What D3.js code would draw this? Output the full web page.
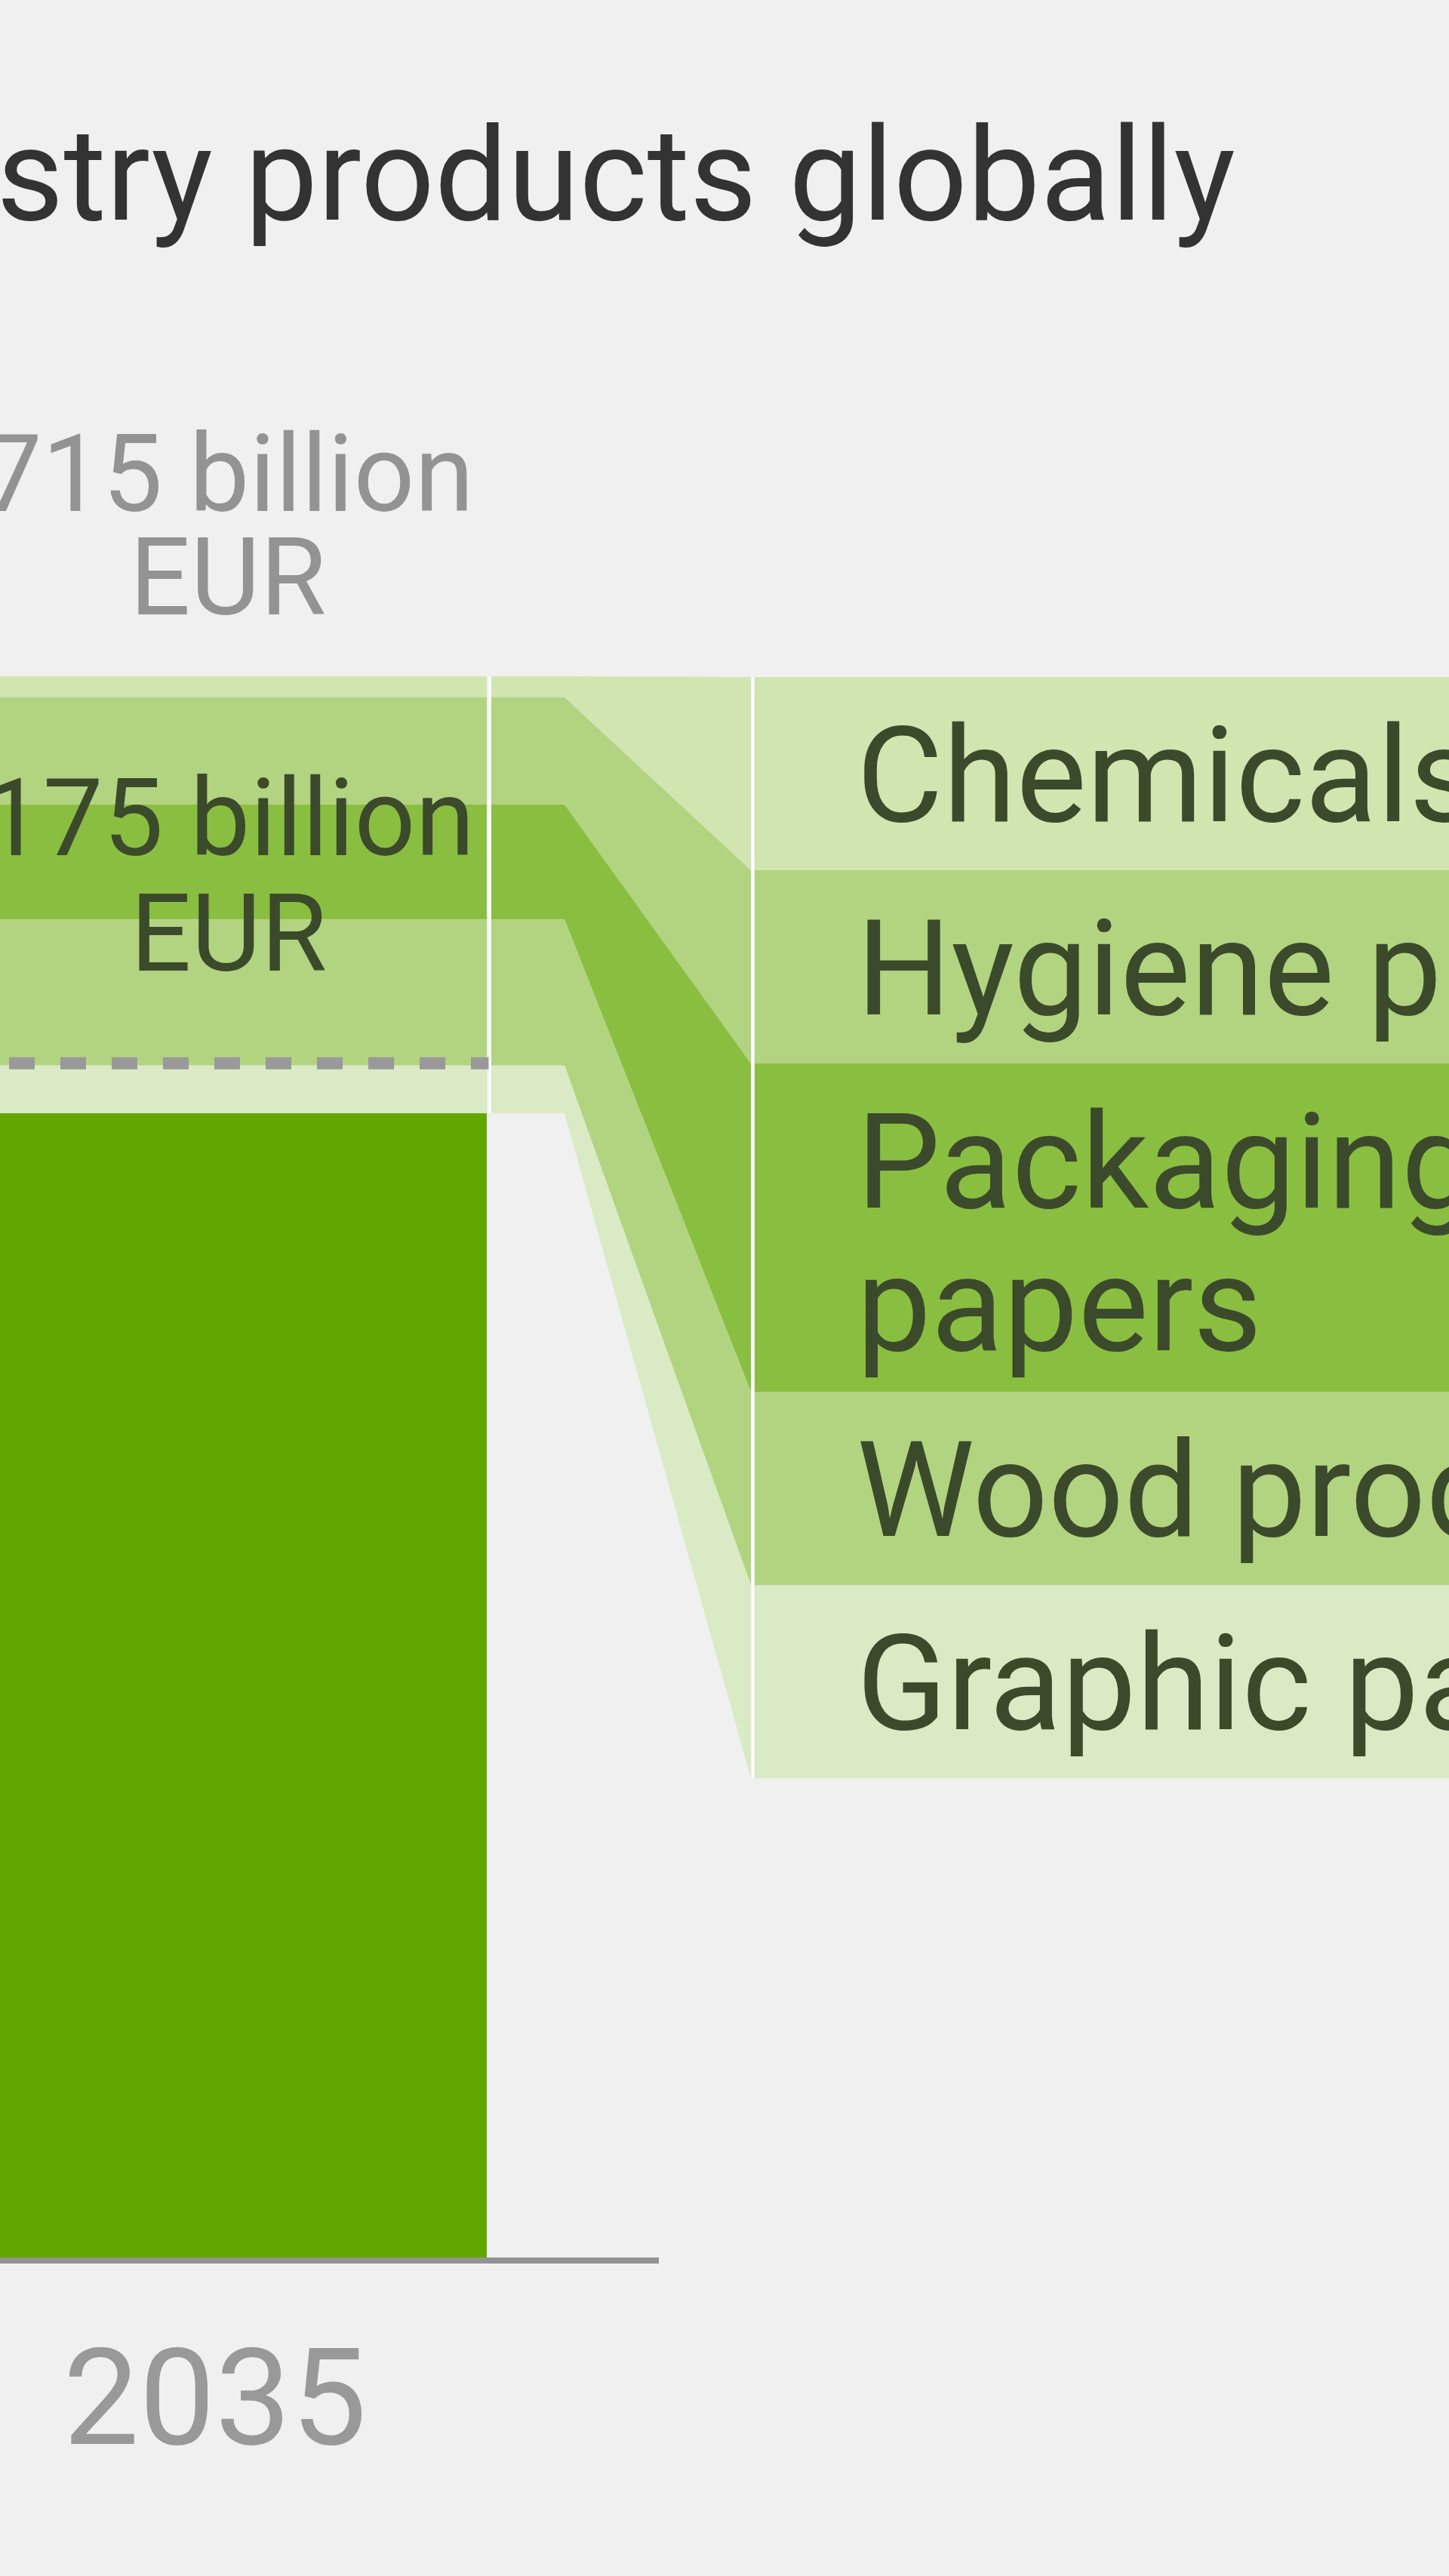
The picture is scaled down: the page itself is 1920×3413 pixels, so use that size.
<!DOCTYPE html>
<html>
<head>
<meta charset="utf-8">
<script src="https://cdn.jsdelivr.net/npm/d3@7"></script>
<style>
  html, body { margin: 0; padding: 0; background: #f0f0f0; overflow: hidden; }
  svg { display: block; font-family: Roboto, "Liberation Sans", sans-serif; }
</style>
</head>
<body>
<div id="chart-area"></div>
<script>
// Data (billion EUR) ------------------------------------------
const years = ["2035"]
const baseValue = 517.5          // dark green part of the bar
const categories = ["Chemicals", "Hygiene products", "Packaging papers", "Wood products", "Graphic papers"]
const labelLines = [["Chemicals"], ["Hygiene products"], ["Packaging", "papers"], ["Wood products"], ["Graphic papers"]]
const segmentValues = [9.5, 48.5, 52, 66, 21.5]   // top to bottom in the bar
const totalLabel = ["715 billion", "EUR"]
const growthLabel = ["175 billion", "EUR"]
const growthValue = 175
const colors = ["#d1e5b1", "#b2d480", "#8abe41", "#b2d480", "#d9eac4"]

// Canvas setup -----------------------------------------------
const WIDTH = 1920
const HEIGHT = 3413

const svg = d3.select("#chart-area").append("svg")
  .attr("width", WIDTH)
  .attr("height", HEIGHT)

svg.append("rect")
  .attr("width", WIDTH)
  .attr("height", HEIGHT)
  .attr("fill", "#f0f0f0")

const total = baseValue + d3.sum(segmentValues)

const y = d3.scaleLinear()
  .domain([0, 715])
  .range([2991, 896])

const x = d3.scaleBand()
  .domain(years)
  .range([-45, 645])
  .padding(0)

// stack segments from the bottom up
const segs = []
let acc = baseValue
for (let i = categories.length - 1; i >= 0; i--) {
  segs.unshift({ name: categories[i], y0: acc, y1: acc + segmentValues[i], color: colors[i], i: i })
  acc += segmentValues[i]
}

// Title ------------------------------------------------------
svg.append("text")
  .attr("x", 1637)
  .attr("y", 291)
  .attr("text-anchor", "end")
  .attr("font-size", "172px")
  .attr("fill", "#333333")
  .text("stry products globally")

// Bar --------------------------------------------------------
const g = svg.append("g")

g.append("rect")
  .attr("x", x("2035"))
  .attr("y", y(baseValue))
  .attr("width", x.bandwidth())
  .attr("height", y(0) - y(baseValue))
  .attr("fill", "#62a700")

g.selectAll("rect.seg")
  .data(segs)
  .enter().append("rect")
  .attr("class", "seg")
  .attr("x", x("2035"))
  .attr("y", d => y(d.y1))
  .attr("width", x.bandwidth())
  .attr("height", d => y(d.y0) - y(d.y1))
  .attr("fill", d => d.color)

// dashed line at the level before growth
g.append("line")
  .attr("x1", 0)
  .attr("x2", 650)
  .attr("y1", y(total - growthValue))
  .attr("y2", y(total - growthValue))
  .attr("stroke", "#999999")
  .attr("stroke-width", 16)
  .attr("stroke-dasharray", "34 34")
  .attr("stroke-dashoffset", -12)

// axis line
g.append("line")
  .attr("x1", -10)
  .attr("x2", 873)
  .attr("y1", y(0) + 4)
  .attr("y2", y(0) + 4)
  .attr("stroke", "#939393")
  .attr("stroke-width", 8)

g.append("text")
  .attr("x", x("2035") + x.bandwidth() / 2 - 15)
  .attr("y", 3238)
  .attr("text-anchor", "middle")
  .attr("font-size", "179px")
  .attr("fill", "#999999")
  .text("2035")

// Value labels -----------------------------------------------
const cx = x("2035") + x.bandwidth() / 2
const totalText = g.append("text")
  .attr("text-anchor", "middle")
  .attr("font-size", "142px")
  .attr("fill", "#939393")
totalText.selectAll("tspan")
  .data(totalLabel)
  .enter().append("tspan")
  .attr("x", cx + 2)
  .attr("y", (d, i) => 677 + i * 137)
  .text(d => d)

const growthText = g.append("text")
  .attr("text-anchor", "middle")
  .attr("font-size", "142px")
  .attr("fill", "#3b4a2b")
growthText.selectAll("tspan")
  .data(growthLabel)
  .enter().append("tspan")
  .attr("x", cx + 3)
  .attr("y", (d, i) => 1133 + i * 153)
  .text(d => d)

// Right column boxes -----------------------------------------
const BOX_X = 1000
const LINE_H = 179
const BOX_PAD = 77
let boxTop = 897
const boxes = labelLines.map((lines, i) => {
  const h = BOX_PAD + lines.length * LINE_H
  const b = { top: boxTop, bottom: boxTop + h, lines: lines, color: colors[i] }
  boxTop += h
  return b
})

// Ribbons ----------------------------------------------------
const RIB_X0 = 651, RIB_KNEE = 748, RIB_X1 = 995
g.selectAll("path.ribbon")
  .data(segs)
  .enter().append("path")
  .attr("class", "ribbon")
  .attr("fill", d => d.color)
  .attr("d", d => {
    const b = boxes[d.i]
    const p = d3.path()
    p.moveTo(RIB_X0, y(d.y1))
    p.lineTo(RIB_KNEE, y(d.y1))
    p.lineTo(RIB_X1, b.top)
    p.lineTo(RIB_X1, b.bottom)
    p.lineTo(RIB_KNEE, y(d.y0))
    p.lineTo(RIB_X0, y(d.y0))
    p.closePath()
    return p.toString()
  })

const boxG = g.selectAll("g.box")
  .data(boxes)
  .enter().append("g")
  .attr("class", "box")

boxG.append("rect")
  .attr("x", BOX_X)
  .attr("y", d => d.top)
  .attr("width", WIDTH - BOX_X + 20)
  .attr("height", d => d.bottom - d.top)
  .attr("fill", d => d.color)

boxG.append("text")
  .attr("font-size", "176px")
  .attr("fill", "#3b4a2b")
  .selectAll("tspan")
  .data(d => d.lines.map((t, k) => ({ t: t, y: d.top + 191 + k * 189 })))
  .enter().append("tspan")
  .attr("x", 1135)
  .attr("y", d => d.y)
  .text(d => d.t)

// white separator lines
g.append("line")
  .attr("x1", 649).attr("x2", 649)
  .attr("y1", y(total)).attr("y2", y(baseValue))
  .attr("stroke", "#ffffff")
  .attr("stroke-width", 3)

g.append("line")
  .attr("x1", 997.5).attr("x2", 997.5)
  .attr("y1", boxes[0].top).attr("y2", boxes[boxes.length - 1].bottom)
  .attr("stroke", "#ffffff")
  .attr("stroke-width", 3)
</script>
</body>
</html>
